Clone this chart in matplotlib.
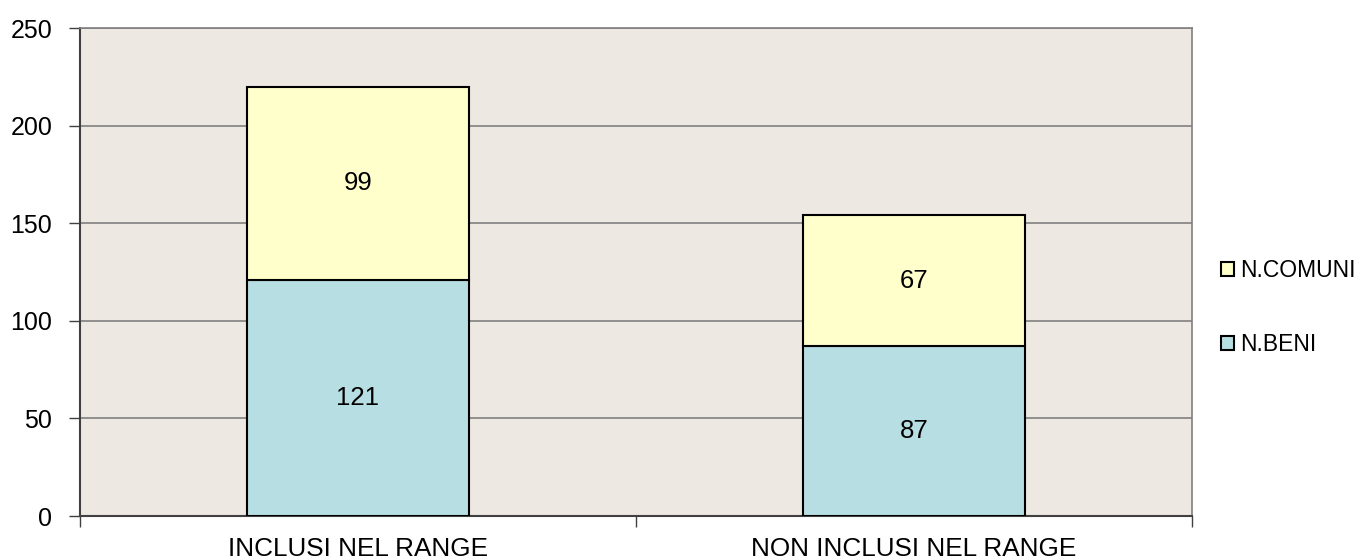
import numpy as np
import matplotlib.pyplot as plt
from matplotlib.patches import Patch

plt.rcParams['font.family'] = ['Liberation Sans', 'DejaVu Sans']

categories = ['INCLUSI NEL RANGE', 'NON INCLUSI NEL RANGE']
n_beni = [121, 87]
n_comuni = [99, 67]

color_beni = '#B7DFE3'
color_comuni = '#FFFFCC'


def plot_stacked_bars():
    fig = plt.figure(figsize=(13.66, 5.6), dpi=100)
    ax = fig.add_axes([80 / 1366, 44 / 560, 1112 / 1366, 488 / 560])
    ax.set_facecolor('#EEE8E3')

    x = np.arange(len(categories))
    width = 0.4
    bars_beni = ax.bar(x, n_beni, width, color=color_beni, edgecolor='black', linewidth=1.5, zorder=3)
    bars_comuni = ax.bar(x, n_comuni, width, bottom=n_beni, color=color_comuni,
                         edgecolor='black', linewidth=1.5, zorder=3)

    for rect, v in zip(bars_beni, n_beni):
        ax.text(rect.get_x() + rect.get_width() / 2, rect.get_y() + v / 2, str(v),
                ha='center', va='center', fontsize=18.5, zorder=4)
    for rect, v, b in zip(bars_comuni, n_comuni, n_beni):
        ax.text(rect.get_x() + rect.get_width() / 2, b + v / 2, str(v),
                ha='center', va='center', fontsize=18.5, zorder=4)

    ax.set_xlim(-0.5, len(categories) - 0.5)
    ax.set_ylim(0, 250)
    ax.set_yticks(np.arange(0, 251, 50))
    ax.yaxis.grid(True, color='#808080', linewidth=1.2, zorder=0)
    ax.set_xticks(x)
    ax.set_xticklabels(categories)
    ax.set_xticks(np.arange(-0.5, len(categories), 1), minor=True)
    ax.tick_params(axis='x', which='major', length=0, labelsize=18.8, pad=15)
    ax.tick_params(axis='x', which='minor', length=8, color='#404040', width=1)
    ax.tick_params(axis='y', length=8, color='#404040', width=1, labelsize=18, pad=12)

    for side in ['left', 'bottom']:
        ax.spines[side].set_color('#404040')
        ax.spines[side].set_linewidth(1.5)
    for side in ['top', 'right']:
        ax.spines[side].set_color('#808080')
        ax.spines[side].set_linewidth(1.2)

    handles = [Patch(facecolor=color_comuni, edgecolor='black', linewidth=1.5, label='N.COMUNI'),
               Patch(facecolor=color_beni, edgecolor='black', linewidth=1.5, label='N.BENI')]
    fig.legend(handles=handles, loc='center left', bbox_to_anchor=(1221 / 1366, 0.451),
               frameon=False, fontsize=16.5, handlelength=0.57, handleheight=0.57,
               handletextpad=0.25, labelspacing=2.25, borderpad=0, borderaxespad=0)

    fig.savefig('out.png', dpi=100)


if __name__ == "__main__":
    plot_stacked_bars()
